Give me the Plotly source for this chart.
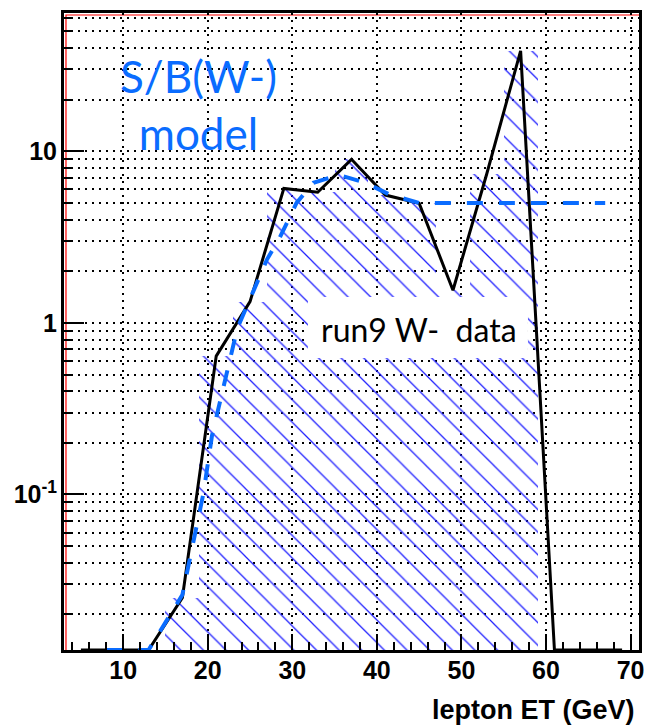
import math
import plotly.graph_objects as go

# ---------------- data ----------------
bin_centers = [5, 9, 13, 17, 21, 25, 29, 33, 37, 41, 45, 49, 53, 57, 61, 65, 69]
data_ratio = [0, 0, 0, 0.025, 0.64, 1.33, 6.08, 5.77, 8.98, 5.56, 4.98, 1.55, 7.4, 38.5, 0, 0, 0]

model_x = [8, 13, 17, 18.5, 19.5, 20.5, 22, 23.5, 25, 27, 28.5, 30.5, 32.5, 35.5, 38.5, 41.5, 45, 67]
model_ratio = [0, 0, 0.026, 0.059, 0.102, 0.22, 0.44, 0.93, 1.38, 2.34, 3.13, 5.0, 6.56, 7.28, 6.6, 5.6, 5.0, 5.0]

x_major_ticks = [10, 20, 30, 40, 50, 60, 70]
y_major_ticks = [0.1, 1, 10]
y_major_text = ["10<sup>-1</sup>", "1", "10"]

X_RANGE = [3, 71]
Y_RANGE = [0.0124, 64]
BIN_WIDTH = 4

# ---------------- derived ----------------
floor = Y_RANGE[0]
data_line = [v if v > 0 else floor for v in data_ratio]
data_bars = [v if v > 0 else None for v in data_ratio]
model_line = [v if v > 0 else floor for v in model_ratio]

y_minor = []
for e in range(-2, 2):
    for m in range(2, 10):
        v = m * 10 ** e
        if Y_RANGE[0] < v < Y_RANGE[1]:
            y_minor.append(v)

BLUE = "#0a6cff"
HATCH = "#1f1fff"
GRID = dict(gridcolor="black", griddash="2px,5px", gridwidth=2)

fig = go.Figure()

fig.add_trace(go.Bar(
    x=bin_centers, y=data_bars, width=BIN_WIDTH,
    marker=dict(color="rgba(0,0,0,0)", line=dict(width=0),
                pattern=dict(shape="\\", fgcolor=HATCH, fgopacity=1,
                             bgcolor="rgba(0,0,0,0)",
                             size=16, solidity=0.08, fillmode="overlay")),
    showlegend=False, hoverinfo="skip"))

fig.add_trace(go.Scatter(
    x=bin_centers, y=data_line, mode="lines",
    line=dict(color="black", width=3), showlegend=False))

fig.add_trace(go.Scatter(
    x=model_x, y=model_line, mode="lines",
    line=dict(color=BLUE, width=4, dash="16px,16px"), showlegend=False))

W, H = 654, 727
ML, MR, MT, MB = 64, 10, 13, 77
PW, PH = W - ML - MR, H - MT - MB


def px(xp):
    return (xp - ML) / PW


def py(yp):
    return (H - MB - yp) / PH


fig.update_layout(
    width=W, height=H,
    margin=dict(l=ML, r=MR, t=MT, b=MB),
    paper_bgcolor="white", plot_bgcolor="white",
    bargap=0,
    xaxis=dict(range=X_RANGE, tickmode="array", tickvals=x_major_ticks,
               ticks="inside", ticklen=16, tickwidth=2, tickcolor="black",
               showgrid=True, **GRID,
               minor=dict(dtick=2, tick0=0, ticks="inside", ticklen=8, tickwidth=2,
                          tickcolor="black", showgrid=False),
               showline=True, linewidth=3, linecolor="black", mirror=True,
               zeroline=False, ticklabelstandoff=-4,
               tickfont=dict(family="Liberation Sans", size=25, color="black", weight="bold")),
    yaxis=dict(type="log", range=[math.log10(Y_RANGE[0]), math.log10(Y_RANGE[1])],
               tickmode="array", tickvals=y_major_ticks, ticktext=y_major_text,
               ticks="inside", ticklen=20, tickwidth=2, tickcolor="black",
               showgrid=True, **GRID,
               minor=dict(tickmode="array", tickvals=y_minor, ticks="inside", ticklen=8,
                          tickwidth=2, tickcolor="black", showgrid=True, **GRID),
               showline=True, linewidth=3, linecolor="black", mirror=True,
               zeroline=False, ticklabelstandoff=-1,
               tickfont=dict(family="Liberation Sans", size=25, color="black", weight="bold")),
    shapes=[
        dict(type="rect", xref="paper", yref="paper",
             x0=2 / PW, x1=1 + 2 / PW, y0=-2 / PH, y1=1 - 2 / PH,
             line=dict(color="red", width=1.2), layer="below"),
        dict(type="rect", xref="paper", yref="paper",
             x0=px(108), x1=px(292), y0=py(171), y1=py(37),
             fillcolor="white", line=dict(width=0), layer="between"),
        dict(type="rect", xref="paper", yref="paper",
             x0=px(310), x1=px(532), y0=py(358), y1=py(297),
             fillcolor="white", line=dict(width=0), layer="above"),
    ],
    annotations=[
        dict(text="S/B(W-)<br>model", xref="paper", yref="paper",
             x=px(200), y=py(104), xanchor="center", yanchor="middle",
             showarrow=False, font=dict(family="Lato", size=44, color=BLUE)),
        dict(text="run9 W-  data", xref="paper", yref="paper",
             x=px(422), y=py(329), xanchor="center", yanchor="middle",
             showarrow=False, font=dict(family="Lato", size=32, color="black")),
        dict(text="<b>lepton ET (GeV)</b>", xref="paper", yref="paper",
             x=px(642), y=py(710), xanchor="right", yanchor="middle",
             showarrow=False, font=dict(family="Liberation Sans", size=27, color="black")),
    ],
)

fig.write_html("out.html")
